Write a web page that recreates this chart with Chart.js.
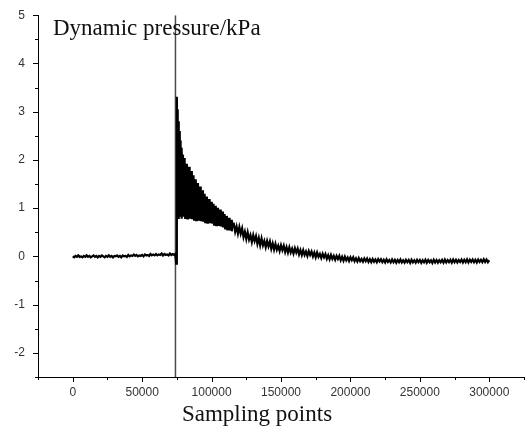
<!DOCTYPE html>
<html>
<head>
<meta charset="utf-8">
<script src="https://cdn.jsdelivr.net/npm/chart.js@4.4.1/dist/chart.umd.min.js"></script>
<style>
  html, body { margin: 0; padding: 0; background: #fff; }
  #wrap { width: 527px; height: 429px; position: relative; }
</style>
</head>
<body>
<div id="wrap"><canvas id="pressureChart"></canvas></div>
<script>
// --- data (x = sampling index, y = dynamic pressure kPa) ---

// quiet baseline before the shock
const baseX = [
  0, 1000, 2000, 3000, 4000, 5000, 6000, 7000, 8000, 9000,
  10000, 11000, 12000, 13000, 14000, 15000, 16000, 17000, 18000, 19000,
  20000, 21000, 22000, 23000, 24000, 25000, 26000, 27000, 28000, 29000,
  30000, 31000, 32000, 33000, 34000, 35000, 36000, 37000, 38000, 39000,
  40000, 41000, 42000, 43000, 44000, 45000, 46000, 47000, 48000, 49000,
  50000, 51000, 52000, 53000, 54000, 55000, 56000, 57000, 58000, 59000,
  60000, 61000, 62000, 63000, 64000, 65000, 66000, 67000, 68000, 69000,
  70000, 71000, 72000, 73000
];
const baseY = [
  0.00, -0.02, 0.01, -0.01, 0.02, -0.01, 0.00, -0.02, 0.01, -0.01,
  0.02, -0.01, 0.01, -0.02, 0.00, 0.02, -0.01, 0.01, -0.02, 0.01,
  -0.01, 0.02, 0.00, -0.02, 0.01, -0.01, 0.02, -0.01, 0.01, -0.02,
  0.01, 0.00, 0.02, -0.01, 0.01, -0.02, 0.02, 0.00, 0.01, -0.01,
  0.03, 0.00, 0.02, 0.01, 0.04, 0.01, 0.03, 0.00, 0.02, 0.01,
  0.03, 0.00, 0.04, 0.02, 0.03, 0.01, 0.05, 0.02, 0.04, 0.02,
  0.05, 0.02, 0.04, 0.03, 0.06, 0.02, 0.05, 0.03, 0.04, 0.02,
  0.06, 0.03, 0.05, 0.03
];

// shock arrival and first peaks
const shockX = [
  73800, 74500, 75000, 75300, 75600, 75900, 76200, 76500, 76800, 77100,
  77400, 77700, 78000, 78300, 78600
];
const shockY = [
  0.05, -0.15, 3.31, 0.85, 3.05, 0.80, 2.80, 0.90, 2.60, 0.82,
  2.40, 0.85, 2.25, 0.78, 2.14
];

// strongly oscillating decay
const burstX = [
  79000, 79400, 79800, 80200, 80600, 81000, 81400, 81800, 82200, 82600,
  83000, 83400, 83800, 84200, 84600, 85000, 85400, 85800, 86200, 86600,
  87000, 87400, 87800, 88200, 88600, 89000, 89400, 89800, 90200, 90600,
  91000, 91400, 91800, 92200, 92600, 93000, 93400, 93800, 94200, 94600,
  95000, 95400, 95800, 96200, 96600, 97000, 97400, 97800, 98200, 98600,
  99000, 99400, 99800, 100200, 100600, 101000, 101400, 101800, 102200, 102600,
  103000, 103400, 103800, 104200, 104600, 105000, 105400, 105800, 106200, 106600,
  107000, 107400, 107800, 108200, 108600, 109000, 109400, 109800, 110200, 110600,
  111000, 111400, 111800, 112200, 112600, 113000, 113400, 113800, 114200, 114600,
  115000
];
const burstY = [
  2.10, 0.82, 1.85, 0.88, 2.04, 0.80, 1.70, 0.86, 1.92, 0.79,
  1.62, 0.85, 1.86, 0.78, 1.55, 0.84, 1.77, 0.77, 1.48, 0.83,
  1.68, 0.76, 1.42, 0.82, 1.60, 0.75, 1.35, 0.81, 1.52, 0.74,
  1.28, 0.80, 1.45, 0.73, 1.22, 0.79, 1.37, 0.72, 1.16, 0.77,
  1.30, 0.71, 1.10, 0.76, 1.24, 0.70, 1.05, 0.75, 1.19, 0.69,
  1.00, 0.73, 1.13, 0.68, 0.96, 0.72, 1.09, 0.66, 0.92, 0.70,
  1.05, 0.65, 0.88, 0.69, 1.01, 0.63, 0.85, 0.67, 0.97, 0.62,
  0.82, 0.65, 0.93, 0.60, 0.79, 0.62, 0.88, 0.58, 0.76, 0.60,
  0.84, 0.56, 0.73, 0.58, 0.80, 0.54, 0.70, 0.56, 0.76, 0.52,
  0.68
];

// slow tail down to the final level
const tailX = [
  116000, 117000, 118000, 119000, 120000, 121000, 122000, 123000, 124000, 125000,
  126000, 127000, 128000, 129000, 130000, 131000, 132000, 133000, 134000, 135000,
  136000, 137000, 138000, 139000, 140000, 141000, 142000, 143000, 144000, 145000,
  146000, 147000, 148000, 149000, 150000, 151000, 152000, 153000, 154000, 155000,
  156000, 157000, 158000, 159000, 160000, 161000, 162000, 163000, 164000, 165000,
  166000, 167000, 168000, 169000, 170000, 171000, 172000, 173000, 174000, 175000,
  176000, 177000, 178000, 179000, 180000, 181000, 182000, 183000, 184000, 185000,
  186000, 187000, 188000, 189000, 190000, 191000, 192000, 193000, 194000, 195000,
  196000, 197000, 198000, 199000, 200000, 201000, 202000, 203000, 204000, 205000,
  206000, 207000, 208000, 209000, 210000, 211000, 212000, 213000, 214000, 215000,
  216000, 217000, 218000, 219000, 220000, 221000, 222000, 223000, 224000, 225000,
  226000, 227000, 228000, 229000, 230000, 231000, 232000, 233000, 234000, 235000,
  236000, 237000, 238000, 239000, 240000, 241000, 242000, 243000, 244000, 245000,
  246000, 247000, 248000, 249000, 250000, 251000, 252000, 253000, 254000, 255000,
  256000, 257000, 258000, 259000, 260000, 261000, 262000, 263000, 264000, 265000,
  266000, 267000, 268000, 269000, 270000, 271000, 272000, 273000, 274000, 275000,
  276000, 277000, 278000, 279000, 280000, 281000, 282000, 283000, 284000, 285000,
  286000, 287000, 288000, 289000, 290000, 291000, 292000, 293000, 294000, 295000,
  296000, 297000, 298000, 299000, 300000
];
const tailY = [
  0.68, 0.51, 0.62, 0.47, 0.61, 0.47, 0.58, 0.40, 0.51, 0.36,
  0.50, 0.35, 0.44, 0.30, 0.44, 0.32, 0.42, 0.26, 0.38, 0.23,
  0.37, 0.23, 0.32, 0.19, 0.32, 0.21, 0.31, 0.16, 0.27, 0.14,
  0.26, 0.14, 0.22, 0.11, 0.23, 0.13, 0.22, 0.09, 0.19, 0.08,
  0.19, 0.08, 0.16, 0.06, 0.17, 0.08, 0.16, 0.04, 0.13, 0.03,
  0.13, 0.03, 0.10, 0.01, 0.11, 0.03, 0.10, 0.00, 0.08, -0.02,
  0.08, -0.01, 0.05, -0.035, 0.055, -0.02, 0.05, -0.05, 0.025, -0.06,
  0.03, -0.05, 0.01, -0.07, 0.01, -0.055, 0.01, -0.08, -0.01, -0.09,
  -0.005, -0.08, -0.025, -0.095, -0.02, -0.08, -0.02, -0.10, -0.04, -0.105,
  -0.035, -0.10, -0.055, -0.11, -0.045, -0.10, -0.045, -0.115, -0.06, -0.12,
  -0.055, -0.11, -0.065, -0.12, -0.055, -0.105, -0.06, -0.12, -0.07, -0.125,
  -0.06, -0.115, -0.075, -0.125, -0.065, -0.12, -0.07, -0.13, -0.075, -0.12,
  -0.065, -0.125, -0.08, -0.13, -0.07, -0.12, -0.075, -0.135, -0.07, -0.125,
  -0.08, -0.13, -0.07, -0.12, -0.075, -0.135, -0.08, -0.125, -0.07, -0.13,
  -0.075, -0.12, -0.08, -0.135, -0.07, -0.125, -0.075, -0.13, -0.08, -0.12,
  -0.07, -0.13, -0.065, -0.125, -0.075, -0.12, -0.07, -0.13, -0.065, -0.12,
  -0.07, -0.125, -0.075, -0.115, -0.065, -0.125, -0.07, -0.12, -0.06, -0.125,
  -0.07, -0.115, -0.065, -0.12, -0.07, -0.125, -0.065, -0.115, -0.07, -0.12,
  -0.06, -0.115, -0.065, -0.12, -0.08
];

// vertical marker line at the shock arrival
const markerX = [74000, 74000];
const markerY = [-2.5, 5];

const yTitle = 'Dynamic pressure/kPa';
const xTitle = 'Sampling points';

const sampleX = baseX.concat(shockX, burstX, tailX);
const pressure = baseY.concat(shockY, burstY, tailY);
if (sampleX.length !== pressure.length) console.log('length mismatch', sampleX.length, pressure.length);

// outward ticks: long on labelled values, short in between; plus the two titles
const tickMarks = {
  id: 'tickMarks',
  afterDraw(chart) {
    const ctx = chart.ctx;
    const area = chart.chartArea;
    const xs = chart.scales.x, ys = chart.scales.y;
    ctx.save();
    ctx.strokeStyle = '#000';
    ctx.lineWidth = 1;
    ctx.beginPath();
    xs.ticks.forEach(t => {
      const px = Math.round(xs.getPixelForValue(t.value)) + 0.5;
      const len = t.value % 50000 === 0 ? 5 : 3;
      ctx.moveTo(px, area.bottom);
      ctx.lineTo(px, area.bottom + len);
    });
    ys.ticks.forEach(t => {
      const py = Math.round(ys.getPixelForValue(t.value)) + 0.5;
      const len = Number.isInteger(t.value) ? 5 : 3;
      ctx.moveTo(area.left, py);
      ctx.lineTo(area.left - len, py);
    });
    ctx.stroke();

    ctx.fillStyle = '#111';
    ctx.font = '23px "Liberation Serif", "Times New Roman", serif';
    ctx.textBaseline = 'alphabetic';
    ctx.textAlign = 'left';
    ctx.fillText(yTitle, 53, 35);
    ctx.textAlign = 'center';
    ctx.fillText(xTitle, 257, 421);
    ctx.restore();
  }
};

const ctx = document.getElementById('pressureChart').getContext('2d');
new Chart(ctx, {
  type: 'line',
  data: {
    datasets: [
      {
        data: sampleX.map((x, i) => ({ x: x, y: pressure[i] })),
        borderColor: '#000',
        borderWidth: 2.2,
        pointRadius: 0,
        tension: 0
      },
      {
        data: markerX.map((x, i) => ({ x: x, y: markerY[i] })),
        borderColor: '#4a4a4a',
        borderWidth: 1.5,
        pointRadius: 0
      }
    ]
  },
  options: {
    responsive: true,
    maintainAspectRatio: false,
    animation: false,
    layout: { padding: { top: 15, right: 0, left: 0, bottom: 0 } },
    plugins: { legend: { display: false }, tooltip: { enabled: false } },
    scales: {
      x: {
        type: 'linear',
        min: -25000,
        max: 325000,
        afterFit: s => { s.height = 52; },
        border: { display: true, color: '#000', width: 1 },
        grid: { display: true, drawOnChartArea: false, tickLength: 5, tickColor: 'rgba(0,0,0,0)' },
        ticks: {
          stepSize: 25000,
          autoSkip: false,
          maxRotation: 0,
          padding: 3,
          color: '#333',
          font: { family: '"Liberation Sans", Arial, sans-serif', size: 12 },
          callback: v => (v % 50000 === 0 && v >= 0 && v <= 300000) ? String(v) : ''
        }
      },
      y: {
        min: -2.5,
        max: 5,
        afterFit: s => { s.width = 38; },
        border: { display: true, color: '#000', width: 1 },
        grid: { display: true, drawOnChartArea: false, tickLength: 5, tickColor: 'rgba(0,0,0,0)' },
        ticks: {
          stepSize: 0.5,
          autoSkip: false,
          padding: 8,
          color: '#333',
          font: { family: '"Liberation Sans", Arial, sans-serif', size: 12 },
          callback: v => Number.isInteger(v) ? String(v) : ''
        }
      }
    }
  },
  plugins: [tickMarks]
});
</script>
</body>
</html>
